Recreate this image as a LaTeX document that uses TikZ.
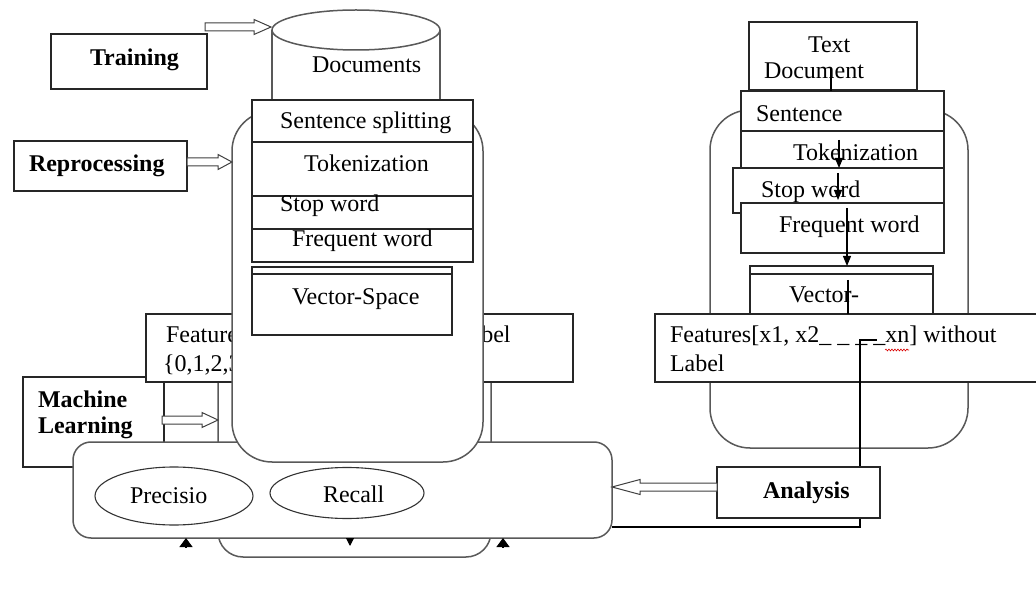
\documentclass[tikz,border=0pt]{standalone}
\usepackage{fontspec}
\setmainfont{Liberation Serif}
\usetikzlibrary{arrows.meta,calc,shapes.geometric,decorations.pathmorphing}

% hollow block arrow from coordinate #1 to coordinate #2, head length #3
\newcommand\hollowarrow[3]{%
  \coordinate (hb) at ($(#2)!#3!(#1)$);
  \draw[harrow] ($(#1)!4pt!90:(#2)$) -- ($(hb)!4pt!90:(#2)$) -- ($(hb)!7.5pt!90:(#2)$) -- (#2)
    -- ($(hb)!7.5pt!-90:(#2)$) -- ($(hb)!4pt!-90:(#2)$) -- ($(#1)!4pt!-90:(#2)$) -- cycle;}

\tikzset{
  box/.style={draw=black!85, line width=1.2pt, fill=white, inner sep=0pt, outer sep=0pt, anchor=north west},
  boxline/.style={draw=black!85, line width=1.2pt},
  rline/.style={draw=black!65, line width=1.5pt},
  rbox/.style={rline, fill=white, inner sep=0pt, outer sep=0pt, anchor=north west},
  lbl/.style={inner sep=0pt, outer sep=0pt, anchor=base west, font=\fontsize{24}{26}\selectfont},
  blbl/.style={lbl, font=\fontsize{24}{26}\selectfont\bfseries},
  harrow/.style={draw=black!75, line width=1pt, fill=white, line join=miter},
  link/.style={draw=black, line width=1.1pt},
  flow/.style={link, -{Triangle[length=10pt, width=8pt]}},
  tipup/.style={link, -{Triangle[length=9pt, width=13pt]}},
  tipdn/.style={link, -{Triangle[length=8pt, width=8pt]}},
  oval/.style={ellipse, draw=black!80, line width=1.1pt, fill=white, inner sep=0pt},
  squiggle/.style={draw=red!85!black, line width=0.6pt, decorate, decoration={snake, amplitude=0.9pt, segment length=3pt}},
}

\begin{document}
\begin{tikzpicture}[x=1pt, y=-1pt]
\useasboundingbox (0,0) rectangle (1036,601);
\clip (0,0) rectangle (1036,601);

% ---------------- training side ----------------
% document store (cylinder)
\fill[white] (272,30) rectangle (440,125);
\draw[rline] (272,30) -- (272,125) (440,30) -- (440,125);
\draw[rline, fill=white] (356,30) ellipse [x radius=84pt, y radius=20pt];
\node[lbl] (docs) at (312,73) {Documents};

\node[box, minimum width=156pt, minimum height=55pt] (train) at (51,34) {};
\node[blbl] (train-t) at (90,66) {Training};
\node[box, minimum width=173pt, minimum height=50pt] (reproc) at (14,141) {};
\node[blbl] (reproc-t) at (29,172) {Reprocessing};

% learning frame
\node[rbox, rounded corners=25pt, minimum width=273pt, minimum height=227pt] (mlbase) at (218,330) {};

\node[box, minimum width=141pt, minimum height=90pt] (ml) at (23,377) {};
\node[blbl] (ml-t1) at (38,407) {Machine};
\node[blbl] (ml-t2) at (38,433) {Learning};

\node[box, minimum width=427pt, minimum height=68pt] (featL) at (146,314) {};
\node[lbl] (featL-t1) at (166,343) {Features[x1, x2\_ \_ \_ xn] with Label};
\node[lbl] (featL-t2) at (163,372) {\{0,1,2,3\}};

% evaluation frame
\node[rbox, rounded corners=18pt, minimum width=539pt, minimum height=96pt] (eval) at (73,442) {};

% preprocessing frame and steps
\node[rbox, rounded corners=40pt, minimum width=251pt, minimum height=351pt] (prep) at (232,111) {};
\node[box, minimum width=221pt, minimum height=42pt] (ss) at (252,100) {};
\node[lbl] (ss-t) at (280,129) {Sentence splitting};
\node[box, minimum width=221pt, minimum height=54pt] (tok) at (252,142) {};
\node[lbl] (tok-t) at (304,172) {Tokenization};
\node[box, minimum width=221pt, minimum height=33pt] (sw) at (252,196) {};
\node[lbl] (sw-t) at (280,212) {Stop word};
\node[box, minimum width=221pt, minimum height=33pt] (fw) at (252,229) {};
\node[lbl] (fw-t) at (292,247) {Frequent word};
\node[box, minimum width=200pt, minimum height=68pt] (vs) at (252,267) {};
\draw[boxline] ($(vs.north west)+(0,7)$) -- ($(vs.north east)+(0,7)$);
\node[lbl] (vs-t) at (292,305) {Vector-Space};

% measures
\node[oval, minimum width=158pt, minimum height=58pt] (prec) at (174,496) {};
\node[lbl] (prec-t) at (130,503) {Precisio};
\node[oval, minimum width=154pt, minimum height=51pt] (rec) at (347,493) {};
\node[lbl] (rec-t) at (323,502) {Recall};

\coordinate (u1) at (186,547.5);
\draw[tipup] (u1) -- (u1 |- eval.south);
\coordinate (d1) at (350,546);
\draw[tipdn] (d1 |- eval.south) -- (d1);
\coordinate (u2) at (503,547.5);
\draw[tipup] (u2) -- (u2 |- eval.south);

% block arrows
\coordinate (trA) at (205,27);
\coordinate (trB) at (271,27);
\hollowarrow{trA}{trB}{17pt}
\coordinate (rpA) at (187,162);
\coordinate (rpB) at (prep.west |- rpA);
\hollowarrow{rpA}{rpB}{14pt}
\coordinate (mlA) at (162,420);
\coordinate (mlB) at (mlbase.west |- mlA);
\hollowarrow{mlA}{mlB}{16pt}

% ---------------- testing side ----------------
\node[rbox, rounded corners=40pt, minimum width=258pt, minimum height=338pt] (postp) at (710,110) {};
\node[box, minimum width=168pt, minimum height=68pt] (tdoc) at (749,22) {};
\node[lbl] (tdoc-t1) at (808,53) {Text};
\node[lbl] (tdoc-t2) at (764,79) {Document};
\node[box, minimum width=203pt, minimum height=40pt] (sent) at (741,91) {};
\node[lbl] (sent-t) at (756,122) {Sentence};
\node[box, minimum width=203pt, minimum height=37pt] (tok2) at (741,131) {};
\node[lbl] (tok2-t) at (793,161) {Tokenization};
\node[box, minimum width=211pt, minimum height=45pt] (sw2) at (733,168) {};
\node[lbl] (sw2-t) at (761,198) {Stop word};
\node[box, minimum width=203pt, minimum height=50pt] (fw2) at (741,203) {};
\node[lbl] (fw2-t) at (779,233) {Frequent word};
\node[box, minimum width=183pt, minimum height=60pt] (vec2) at (750,266) {};
\draw[boxline] ($(vec2.north west)+(0,8)$) -- ($(vec2.north east)+(0,8)$);
\node[lbl] (vec2-t) at (789,303) {Vector-};

\coordinate (c1) at (831,68);
\draw[link] (c1) -- (c1 |- sent.north);
\coordinate (c2) at (839,140);
\draw[flow] (c2) -- (c2 |- sw2.north);
\coordinate (c3) at (838,173);
\coordinate (c3e) at (838,200);
\draw[flow] (c3) -- (c3e);
\coordinate (c4) at (847,208);
\draw[flow] (c4) -- (c4 |- vec2.north);

\node[box, minimum width=385pt, minimum height=68pt] (featR) at (655,314) {};
\node[lbl] (featR-t1) at (670,343) {Features[x1, x2\_ \_ \_ \_xn] without};
\node[lbl] (featR-t2) at (670,372) {Label};
\draw[squiggle] (885,350) -- (909,350);

\coordinate (c5) at (848,280);
\draw[link] (c5) -- (c5 |- featR.north);

\coordinate (fx) at (877,340);
\coordinate (fk) at (860,340);
\coordinate (fend) at (612,527);
\draw[link] (fx) -- (fk) -- (fk |- fend) -- (eval.east |- fend);

\node[box, minimum width=163pt, minimum height=51pt] (anal) at (717,467) {};
\node[blbl] (anal-t) at (763,498) {Analysis};
\coordinate (anA) at (717,487);
\coordinate (anB) at (eval.east |- anA);
\hollowarrow{anA}{anB}{28pt}
\end{tikzpicture}
\end{document}
